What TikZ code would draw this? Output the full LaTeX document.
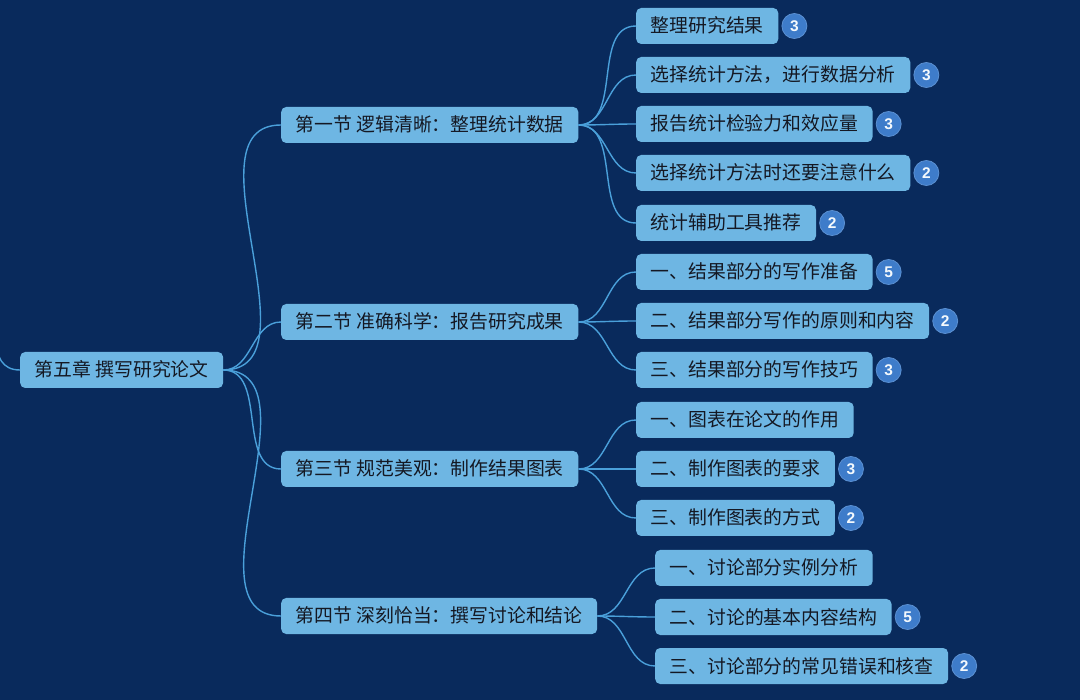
\documentclass[tikz,border=0pt]{standalone}
\usepackage{fontspec}
\setmainfont{Noto Sans CJK SC}
\newfontfamily\digitfont{Liberation Sans}
\usepackage{tikz}
\usetikzlibrary{positioning}
\definecolor{bgnavy}{RGB}{9, 42, 92}
\definecolor{nodeblue}{RGB}{110, 182, 227}
\definecolor{linkblue}{RGB}{74, 160, 218}
\definecolor{badgeblue}{RGB}{62, 124, 202}
\definecolor{textdark}{RGB}{20, 24, 35}

\begin{document}
\begin{tikzpicture}[
            x=1pt, y=-1pt,
            topic/.style={fill=nodeblue, rounded corners=5pt, anchor=west, minimum height=36pt, inner xsep=14.5pt, text height=14pt, text depth=0pt, text=textdark, font=\fontsize{18.85}{20}\selectfont},
            badge/.style={circle, fill=badgeblue, draw=badgeblue!85!white, line width=0.8pt, minimum size=25pt, inner sep=0pt, text=white!92!nodeblue, font=\digitfont\bfseries\fontsize{15.5}{15.5}\selectfont},
            link/.style={draw=linkblue, line width=1.4pt}
        ]
            \fill[bgnavy] (0,0) rectangle (1080,700);
            \useasboundingbox (0,0) rectangle (1080,700);

            \node[topic] (root) at (20,370) {第五章 撰写研究论文};
            \coordinate (upper) at (-4,280);

            \node[topic] (c1) at (281,125) {第一节 逻辑清晰：整理统计数据};
            \node[topic] (c2) at (281,322) {第二节 准确科学：报告研究成果};
            \node[topic] (c3) at (281,469) {第三节 规范美观：制作结果图表};
            \node[topic] (c4) at (281,616) {第四节 深刻恰当：撰写讨论和结论};

            \node[topic] (s11) at (636,26) {整理研究结果};
            \node[topic] (s12) at (636,75) {选择统计方法，进行数据分析};
            \node[topic] (s13) at (636,124) {报告统计检验力和效应量};
            \node[topic] (s14) at (636,173) {选择统计方法时还要注意什么};
            \node[topic] (s15) at (636,223) {统计辅助工具推荐};

            \node[topic] (s21) at (636,272) {一、结果部分的写作准备};
            \node[topic] (s22) at (636,321) {二、结果部分写作的原则和内容};
            \node[topic] (s23) at (636,370) {三、结果部分的写作技巧};

            \node[topic] (s31) at (636,420) {一、图表在论文的作用};
            \node[topic] (s32) at (636,469) {二、制作图表的要求};
            \node[topic] (s33) at (636,518) {三、制作图表的方式};

            \node[topic] (s41) at (655,568) {一、讨论部分实例分析};
            \node[topic] (s42) at (655,617) {二、讨论的基本内容结构};
            \node[topic] (s43) at (655,666) {三、讨论部分的常见错误和核查};

            % counters
            \node[badge, right=3pt of s11] (b11) {3};
            \node[badge, right=3pt of s12] (b12) {3};
            \node[badge, right=3pt of s13] (b13) {3};
            \node[badge, right=3pt of s14] (b14) {2};
            \node[badge, right=3pt of s15] (b15) {2};
            \node[badge, right=3pt of s21] (b21) {5};
            \node[badge, right=3pt of s22] (b22) {2};
            \node[badge, right=3pt of s23] (b23) {3};
            \node[badge, right=3pt of s32] (b32) {3};
            \node[badge, right=3pt of s33] (b33) {2};
            \node[badge, right=3pt of s42] (b42) {5};
            \node[badge, right=3pt of s43] (b43) {2};

            \draw[link] (upper) to[out=-85, in=180] (root.west);

            \draw[link] (root.east) to[out=0, in=180] (c1.west);
            \draw[link] (root.east) to[out=0, in=180] (c2.west);
            \draw[link] (root.east) to[out=0, in=180] (c3.west);
            \draw[link] (root.east) to[out=0, in=180] (c4.west);

            \draw[link] (c1.east) to[out=0, in=180] (s11.west);
            \draw[link] (c1.east) to[out=0, in=180] (s12.west);
            \draw[link] (c1.east) to[out=0, in=180] (s13.west);
            \draw[link] (c1.east) to[out=0, in=180] (s14.west);
            \draw[link] (c1.east) to[out=0, in=180] (s15.west);

            \draw[link] (c2.east) to[out=0, in=180] (s21.west);
            \draw[link] (c2.east) to[out=0, in=180] (s22.west);
            \draw[link] (c2.east) to[out=0, in=180] (s23.west);

            \draw[link] (c3.east) to[out=0, in=180] (s31.west);
            \draw[link] (c3.east) to[out=0, in=180] (s32.west);
            \draw[link] (c3.east) to[out=0, in=180] (s33.west);

            \draw[link] (c4.east) to[out=0, in=180] (s41.west);
            \draw[link] (c4.east) to[out=0, in=180] (s42.west);
            \draw[link] (c4.east) to[out=0, in=180] (s43.west);
        \end{tikzpicture}
\end{document}
